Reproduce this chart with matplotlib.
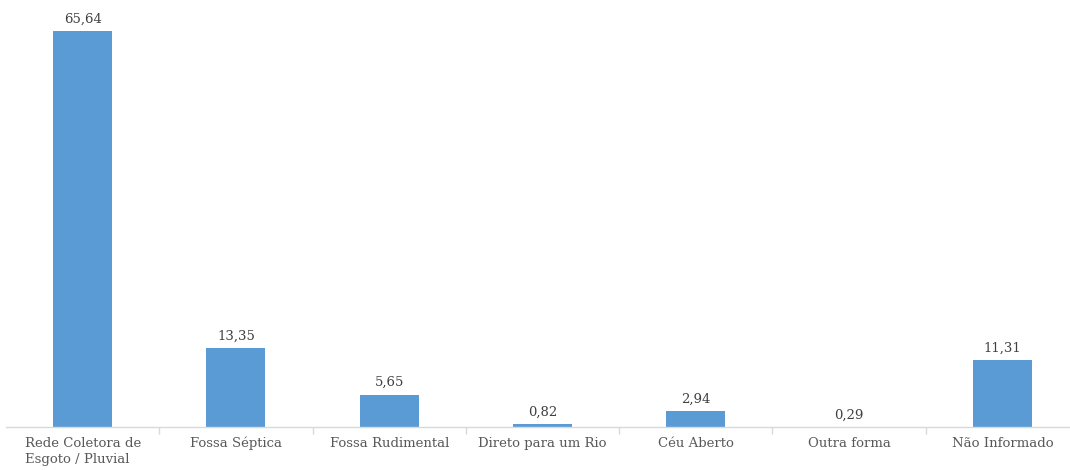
import matplotlib
matplotlib.use("Agg")
import matplotlib.pyplot as plt
import numpy as np

categories = ["Rede Coletora de\nEsgoto / Pluvial", "Fossa Séptica", "Fossa Rudimental",
              "Direto para um Rio", "Céu Aberto", "Outra forma", "Não Informado"]
values = [65.64, 13.35, 5.65, 0.82, 2.94, 0.29, 11.31]
value_labels = ["65,64", "13,35", "5,65", "0,82", "2,94", "0,29", "11,31"]

W, H = 1070, 470
fig = plt.figure(figsize=(W / 100, H / 100), dpi=100)
# plot area in pixel coordinates
left_px, right_px, top_px, base_px = 6, 1079, 5, 427
ax = fig.add_axes([left_px / W, 1 - base_px / H, (right_px - left_px) / W, (base_px - top_px) / H])

x = np.arange(len(categories))
ax.bar(x, values, width=0.385, color="#5b9bd5", zorder=2)
ax.set_xlim(-0.5, len(categories) - 0.5)
ymin = 0.32
ax.set_ylim(ymin, 70.0)

font = "DejaVu Serif"
for xi, v, lab in zip(x, values, value_labels):
    ax.annotate(lab, (xi, max(v, ymin)), xytext=(0, 4), textcoords="offset points",
                ha="center", va="bottom", fontsize=9.5, color="#404040", family=font)

for s in ["top", "right", "left"]:
    ax.spines[s].set_visible(False)
ax.spines["bottom"].set_color("#d9d9d9")
ax.spines["bottom"].set_linewidth(1.0)
ax.set_yticks([])

# category separators
ax.set_xticks(np.arange(1, len(categories)) - 0.5, minor=False)
ax.set_xticklabels([])
ax.tick_params(axis="x", which="major", length=5, color="#d9d9d9", width=1.0)
ax.set_xticks(x, minor=True)
ax.set_xticklabels(categories, minor=True, fontsize=9.5, color="#595959", family=font,
                   linespacing=1.3)
ax.tick_params(axis="x", which="minor", length=0, pad=7)
for t in ax.get_xticklabels(minor=True):
    t.set_multialignment("left")

fig.savefig("out.png", dpi=100)
